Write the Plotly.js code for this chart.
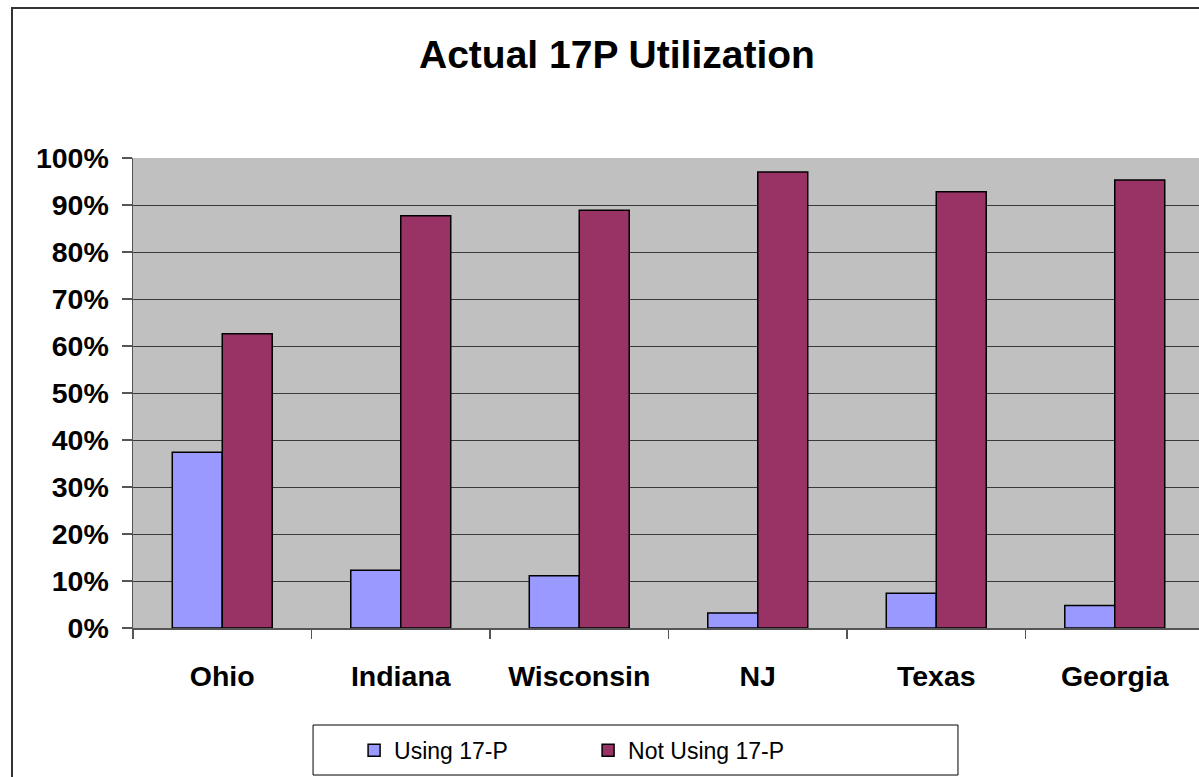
<!DOCTYPE html>
<html>
<head>
<meta charset="utf-8">
<script src="https://cdn.plot.ly/plotly-3.0.1.min.js"></script>
<style>
html,body{margin:0;padding:0;background:#fff;}
#chart{width:1199px;height:777px;}
</style>
</head>
<body>
<div id="chart"></div>
<script>
const categories = ["Ohio", "Indiana", "Wisconsin", "NJ", "Texas", "Georgia"];
const usingValues = [0.374, 0.123, 0.111, 0.032, 0.074, 0.048];
const notUsingValues = [0.626, 0.877, 0.889, 0.970, 0.928, 0.953];
const seriesNames = ["Using 17-P", "Not Using 17-P"];
const titleText = "Actual 17P Utilization";
const yTickVals = [0, 0.1, 0.2, 0.3, 0.4, 0.5, 0.6, 0.7, 0.8, 0.9, 1.0];
const yTickText = ["0%","10%","20%","30%","40%","50%","60%","70%","80%","90%","100%"];

const FONT = "Arial, 'Liberation Sans', sans-serif";

const traces = [
  {
    type: "bar", name: seriesNames[0], x: categories, y: usingValues,
    marker: {color: "#9999FF", line: {color: "#000000", width: 1.5}},
    hoverinfo: "skip"
  },
  {
    type: "bar", name: seriesNames[1], x: categories, y: notUsingValues,
    marker: {color: "#993366", line: {color: "#000000", width: 1.5}},
    hoverinfo: "skip"
  }
];

const layout = {
  width: 1199, height: 777,
  margin: {l: 133, r: 0, t: 158, b: 149, pad: 0},
  paper_bgcolor: "#ffffff",
  plot_bgcolor: "#C0C0C0",
  font: {family: FONT, color: "#000000"},
  title: {
    text: titleText,
    font: {size: 39, family: FONT, color: "#000", weight: "bold"},
    x: 0.454, xanchor: "center", xref: "paper",
    y: 0.930, yref: "container", yanchor: "middle"
  },
  barmode: "group",
  bargap: 0.44,
  bargroupgap: 0,
  showlegend: true,
  legend: {
    orientation: "h",
    x: 0.2074, xanchor: "left",
    y: -0.26, yanchor: "middle",
    bgcolor: "rgba(0,0,0,0)",
    borderwidth: 0,
    font: {size: 23, family: FONT, color: "#000"},
    entrywidth: 189, entrywidthmode: "pixels",
    traceorder: "normal"
  },
  xaxis: {
    type: "category",
    range: [-0.5, 5.472],
    showgrid: false,
    showline: true, linecolor: "#555555", linewidth: 1.5,
    ticks: "outside", tickson: "boundaries", ticklen: 9, tickcolor: "#555555", tickwidth: 1.5,
    tickfont: {size: 28.5, family: FONT, color: "#000", weight: "bold"},
    ticklabelstandoff: 22,
    fixedrange: true, zeroline: false
  },
  yaxis: {
    range: [0, 1],
    tickvals: yTickVals,
    ticktext: yTickText,
    showgrid: true, gridcolor: "#3a3a3a", gridwidth: 1,
    showline: true, linecolor: "#555555", linewidth: 1.5,
    ticks: "outside", ticklen: 10, tickcolor: "#555555", tickwidth: 1.5,
    tickfont: {size: 28.5, family: FONT, color: "#000", weight: "bold"},
    ticklabelstandoff: 7,
    zeroline: false, fixedrange: true
  },
  shapes: [
    {
      type: "rect", xref: "paper", yref: "paper",
      x0: -0.1135, x1: 1.05, y0: -0.4, y1: 1.319,
      line: {color: "#333333", width: 2}, fillcolor: "rgba(0,0,0,0)", layer: "below"
    },
    {
      type: "rect", xref: "paper", yref: "paper",
      x0: 0.1689, x1: 0.7739, y0: -0.3128, y1: -0.2064,
      line: {color: "#000000", width: 1}, fillcolor: "#ffffff", layer: "below"
    }
  ]
};

Plotly.newPlot("chart", traces, layout, {displayModeBar: false, staticPlot: true});
</script>
</body>
</html>
